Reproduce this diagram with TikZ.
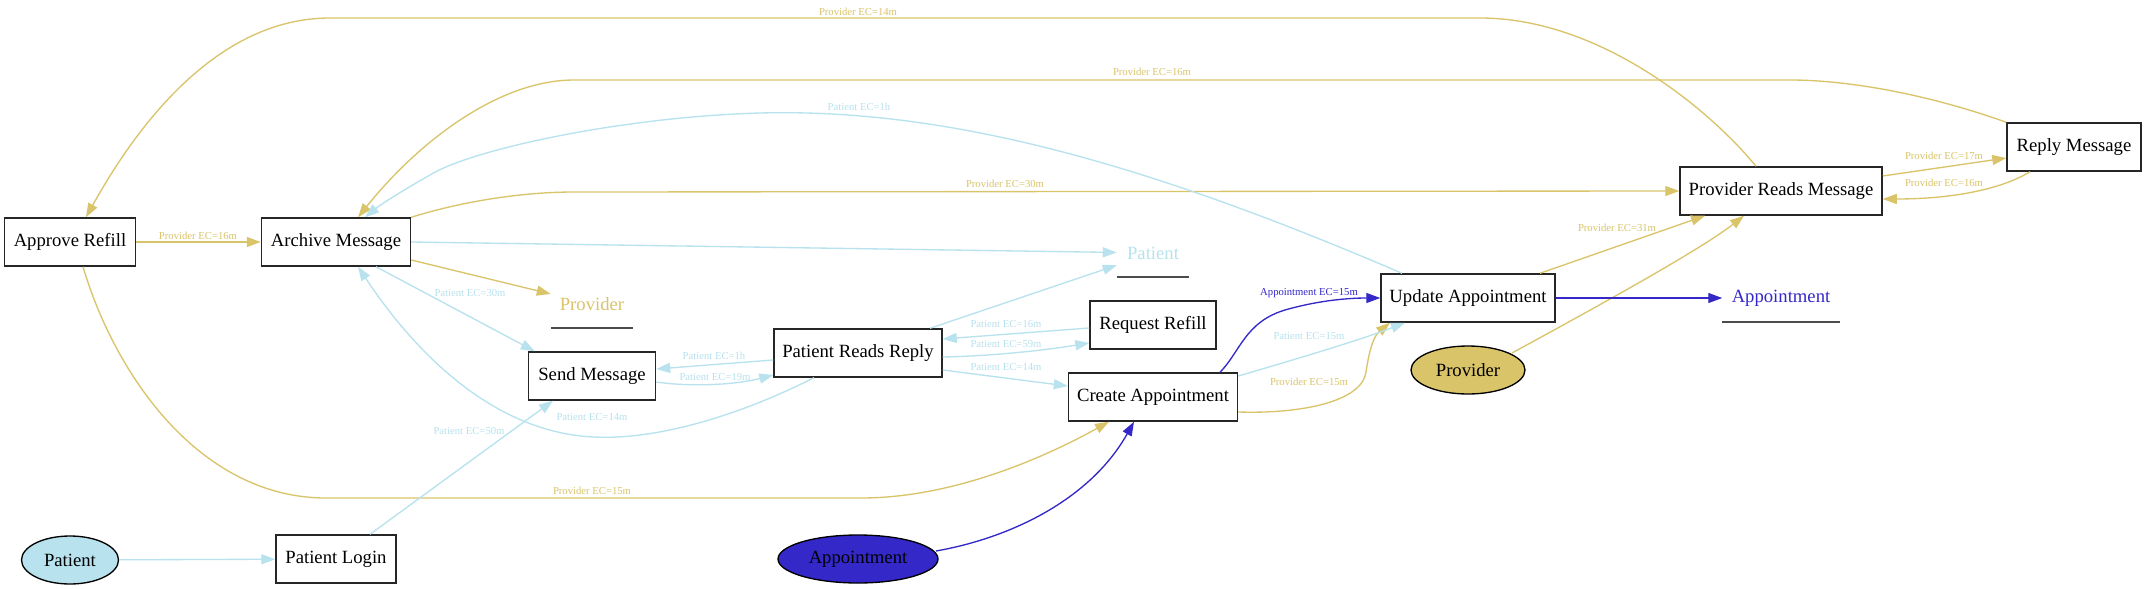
\documentclass[tikz,border=0pt]{standalone}
\usepackage{fontspec}
\setmainfont{Liberation Serif}
\usetikzlibrary{arrows.meta,calc,shapes.geometric}
\definecolor{gold}{RGB}{218,196,106}
\definecolor{lblue}{RGB}{183,226,238}
\definecolor{dblue}{RGB}{52,40,200}
\begin{document}
\begin{tikzpicture}[x=0.75pt,y=-0.75pt,
  bx/.style={draw=black!85, line width=1.1pt, rectangle, fill=white, minimum height=36pt, minimum width=#1*0.75pt, inner sep=0pt, font=\fontsize{14}{16}\selectfont},
  el/.style={draw=black, line width=1pt, ellipse, minimum height=36pt, minimum width=#1*0.75pt, inner sep=0pt, font=\fontsize{14}{16}\selectfont},
  ul/.style={rectangle, minimum height=36pt, minimum width=#1*0.75pt, inner sep=0pt, font=\fontsize{14}{16}\selectfont},
  lab/.style={inner sep=0pt, font=\fontsize{8}{9}\selectfont},
  pe/.style={color=gold, line width=1pt, -{Triangle[length=10.5pt,width=7.5pt]}},
  pa/.style={color=lblue, line width=1pt, -{Triangle[length=10.5pt,width=7.5pt]}},
  ap/.style={color=dblue, line width=1pt, -{Triangle[length=10.5pt,width=7.5pt]}},
  uline/.style={draw=black!70, line width=1.5pt}
]
\fill[white] (0,0) rectangle (2146,589);
\useasboundingbox (0,0) rectangle (2146,589);

% nodes
\node[bx=131] (ar) at (70,242) {Approve Refill};
\node[el=97, fill=lblue] (patE) at (70,560) {Patient};
\node[bx=149] (am) at (336,242) {Archive Message};
\node[bx=120] (pl) at (336,559) {Patient Login};
\node[ul=82, text=gold] (provL) at (592,304) {Provider};
\node[bx=127] (sm) at (592,376) {Send Message};
\node[bx=168] (prr) at (858,353) {Patient Reads Reply};
\node[el=160, fill=dblue] (apE) at (858,559) {Appointment};
\node[ul=72, text=lblue] (patL) at (1153,253) {Patient};
\node[bx=126] (rr) at (1153,325) {Request Refill};
\node[bx=169] (ca) at (1153,397) {Create Appointment};
\node[bx=174] (ua) at (1468,298) {Update Appointment};
\node[el=114, fill=gold] (provE) at (1468,370) {Provider};
\node[bx=202] (prm) at (1781,191) {Provider Reads Message};
\node[ul=117, text=dblue] (apL) at (1781,298) {Appointment};
\node[bx=134] (rm) at (2074,147) {Reply Message};

\draw[uline] (provL.south west) -- (provL.south east);
\draw[uline] (patL.south west) -- (patL.south east);
\draw[uline] (apL.south west) -- (apL.south east);

% Provider edges
\draw[pe] ($(prm.north)+(-25,0)$) .. controls (1710,110) and (1600,18) .. (1480,18) -- (330,18) .. controls (220,18) and (140,120) .. ($(ar.north)+(16,0)$);
\draw[pe] (rm.north west) .. controls (1930,95) and (1850,80) .. (1790,80) -- (574,80) .. controls (500,80) and (420,140) .. ($(am.north)+(22,0)$);
\draw[pe] (am.north east) .. controls (460,202) and (520,192) .. (574,192) -- (prm.west);
\draw[pe] (ar) -- (am);
\draw[pe] ($(am.east)+(0,18)$) -- (provL);
\draw[pe] ($(ar.south)+(13,0)$) .. controls (115,375) and (200,498) .. (326,498) -- (861,498) .. controls (950,498) and (1040,460) .. ($(ca.south)+(-44,0)$);
\draw[pe] ($(ca.east)+(0,15)$) .. controls (1300,414) and (1362,402) .. (1366,372) .. controls (1370,345) and (1375,335) .. ($(ua.south)+(-78,0)$);
\draw[pe] ($(ua.north)+(72,0)$) -- ($(prm.south)+(-76,0)$);
\draw[pe] ($(provE.center)+(44,-17)$) .. controls (1600,305) and (1700,250) .. ($(prm.south)+(-37,0)$);
\draw[pe] ($(prm.east)+(0,-15)$) -- ($(rm.west)+(0,11)$);
\draw[pe] ($(rm.south)+(-44,0)$) .. controls (2000,190) and (1950,199) .. ($(prm.east)+(0,8)$);

% Patient edges
\draw[pa] ($(ua.north)+(-66,0)$) .. controls (1150,165) and (950,108) .. (760,113) .. controls (620,117) and (470,150) .. (430,175) .. controls (400,192) and (380,205) .. ($(am.north)+(29,0)$);
\draw[pa] (am.east) -- (patL);
\draw[pa] ($(prr.north)+(72,0)$) -- (patL);
\draw[pa] ($(am.south)+(40,0)$) -- ($(sm.north west)+(7,0)$);
\draw[pa] ($(sm.east)+(0,6)$) .. controls (690,387) and (735,385) .. ($(prr.west)+(0,22)$);
\draw[pa] ($(prr.west)+(0,7)$) -- ($(sm.east)+(0,-7)$);
\draw[pa] ($(prr.south)+(-44,0)$) .. controls (730,420) and (650,440) .. (594,437) .. controls (480,432) and (400,330) .. ($(am.south)+(22,0)$);
\draw[pa] ($(pl.north)+(34,0)$) -- ($(sm.south)+(-39,0)$);
\draw[pa] (patE) -- (pl);
\draw[pa] ($(prr.east)+(0,4)$) .. controls (990,356) and (1040,351) .. ($(rr.west)+(0,18)$);
\draw[pa] ($(rr.west)+(0,3)$) -- ($(prr.east)+(0,-14)$);
\draw[pa] ($(prr.east)+(0,17)$) -- ($(ca.west)+(0,-11)$);
\draw[pa] ($(ca.east)+(0,-21)$) .. controls (1300,358) and (1360,340) .. ($(ua.south)+(-63,0)$);

% Appointment edges
\draw[ap] ($(ca.north)+(67,0)$) .. controls (1240,352) and (1245,322) .. (1285,310) .. controls (1320,300) and (1350,298) .. (ua.west);
\draw[ap] (ua) -- (apL);
\draw[ap] ($(apE.center)+(78,-8)$) .. controls (1010,538) and (1090,500) .. ($(ca.south)+(-19,0)$);

% edge labels
\node[lab, text=gold] (l1) at (858,12) {Provider EC=14m};
\node[lab, text=gold] (l2) at (1152,72) {Provider EC=16m};
\node[lab, text=lblue] (l12) at (859,107) {Patient EC=1h};
\node[lab, text=gold] (l3) at (1005,184) {Provider EC=30m};
\node[lab, text=gold] (l4) at (198,236) {Provider EC=16m};
\node[lab, text=gold] (l10) at (1944,156) {Provider EC=17m};
\node[lab, text=gold] (l11) at (1944,183) {Provider EC=16m};
\node[lab, text=gold] (l8) at (1617,228) {Provider EC=31m};
\node[lab, text=dblue] (l25) at (1309,293) {Appointment EC=15m};
\node[lab, text=lblue] (l15) at (470,293) {Patient EC=30m};
\node[lab, text=lblue] (l22) at (1006,324) {Patient EC=16m};
\node[lab, text=lblue] (l24) at (1309,336) {Patient EC=15m};
\node[lab, text=lblue] (l21) at (1006,344) {Patient EC=59m};
\node[lab, text=lblue] (l17) at (714,356) {Patient EC=1h};
\node[lab, text=lblue] (l23) at (1006,367) {Patient EC=14m};
\node[lab, text=lblue] (l16) at (715,377) {Patient EC=19m};
\node[lab, text=gold] (l7) at (1309,382) {Provider EC=15m};
\node[lab, text=lblue] (l18) at (592,417) {Patient EC=14m};
\node[lab, text=lblue] (l19) at (469,431) {Patient EC=50m};
\node[lab, text=gold] (l6) at (592,491) {Provider EC=15m};
\end{tikzpicture}
\end{document}
